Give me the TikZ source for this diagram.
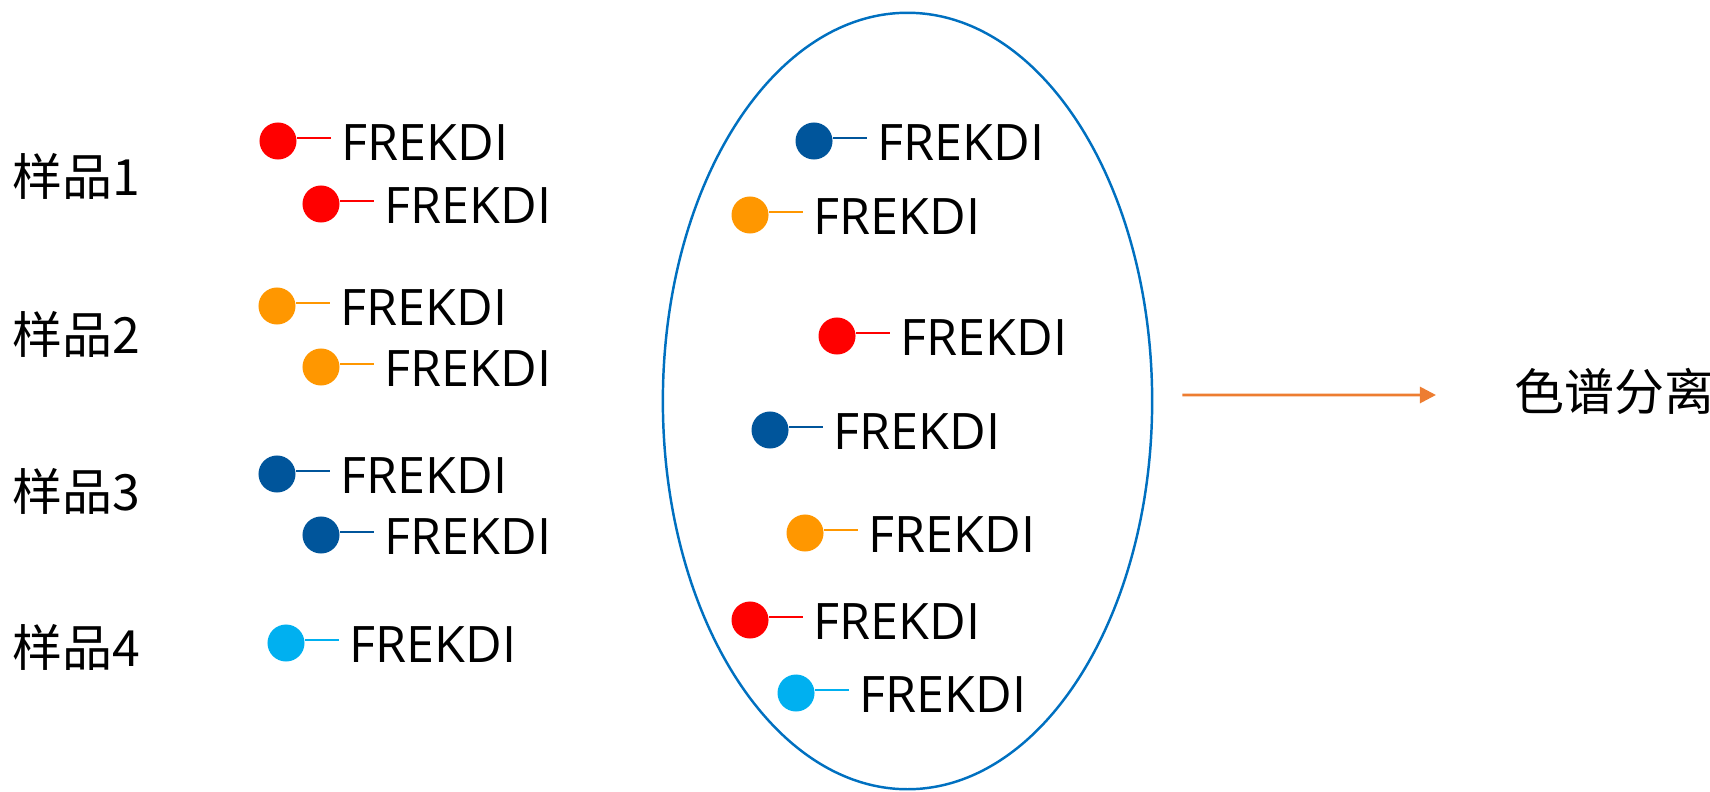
\documentclass[tikz,border=0pt]{standalone}
\usepackage{fontspec}
\setmainfont{Open Sans}
\newfontfamily\cjk{Noto Sans CJK SC}
\usetikzlibrary{shapes.geometric,arrows.meta}

\definecolor{pepred}{HTML}{FF0000}
\definecolor{peporange}{HTML}{FF9700}
\definecolor{pepnavy}{HTML}{00559B}
\definecolor{pepcyan}{HTML}{00B0F0}
\definecolor{mixblue}{HTML}{0070C0}
\definecolor{flowarrow}{HTML}{ED7D31}

\tikzset{
  pepdot/.style={circle, inner sep=0pt, minimum size=0.37cm, draw=none},
  peptext/.style={anchor=west, inner xsep=0.1cm, inner ysep=0pt,
    font=\fontsize{14.3pt}{16pt}\selectfont},
  link/.style={line width=0.55pt},
  sample/.style={anchor=west, inner sep=0pt,
    font=\cjk\fontsize{14.2pt}{16pt}\selectfont},
  mixture/.style={draw=mixblue, line width=0.7pt, ellipse, inner sep=0pt,
    minimum width=4.89cm, minimum height=7.76cm},
  flow/.style={draw=flowarrow, line width=0.8pt,
    -{Triangle[length=0.16cm,width=0.16cm]}},
}

% one peptide: a coloured bead, a short stem and its sequence
\newcommand\pepitem[4]{%
  \node[pepdot, fill=#4] (#1) at (#2,#3) {};
  \node[peptext, xshift=0.53cm, yshift=-0.02cm] (#1t) at (#1) {FREKDI};
  \draw[#4, link] (#1.10) -- (#1.10 -| #1t.west);
}

\begin{document}
\begin{tikzpicture}[x=0.01cm, y=-0.01cm]
\useasboundingbox (0,0) rectangle (1710,791);

% sample labels
\node[sample] (s1) at (12,176) {样品1};
\node[sample] (s2) at (12,334) {样品2};
\node[sample] (s3) at (12,491) {样品3};
\node[sample] (s4) at (12,647) {样品4};

% peptides of each sample
\pepitem{a1}{278}{141}{pepred}
\pepitem{a2}{321}{204}{pepred}
\pepitem{b1}{277}{306}{peporange}
\pepitem{b2}{321}{367}{peporange}
\pepitem{c1}{277}{474}{pepnavy}
\pepitem{c2}{321}{535}{pepnavy}
\pepitem{d1}{286}{643}{pepcyan}

% pooled mixture
\node[mixture] (mix) at (907.5,401) {};
\pepitem{e1}{814}{141}{pepnavy}
\pepitem{e2}{750}{215}{peporange}
\pepitem{e3}{837}{336}{pepred}
\pepitem{e4}{770}{430}{pepnavy}
\pepitem{e5}{805}{533}{peporange}
\pepitem{e6}{750}{620}{pepred}
\pepitem{e7}{796}{693}{pepcyan}

% separation step
\node[sample] (sep) at (1514,391) {色谱分离};
\draw[flow] ([shift={(0.29cm,0.06cm)}]mix.east) -- ([shift={(-0.78cm,-0.04cm)}]sep.west);
\end{tikzpicture}
\end{document}
